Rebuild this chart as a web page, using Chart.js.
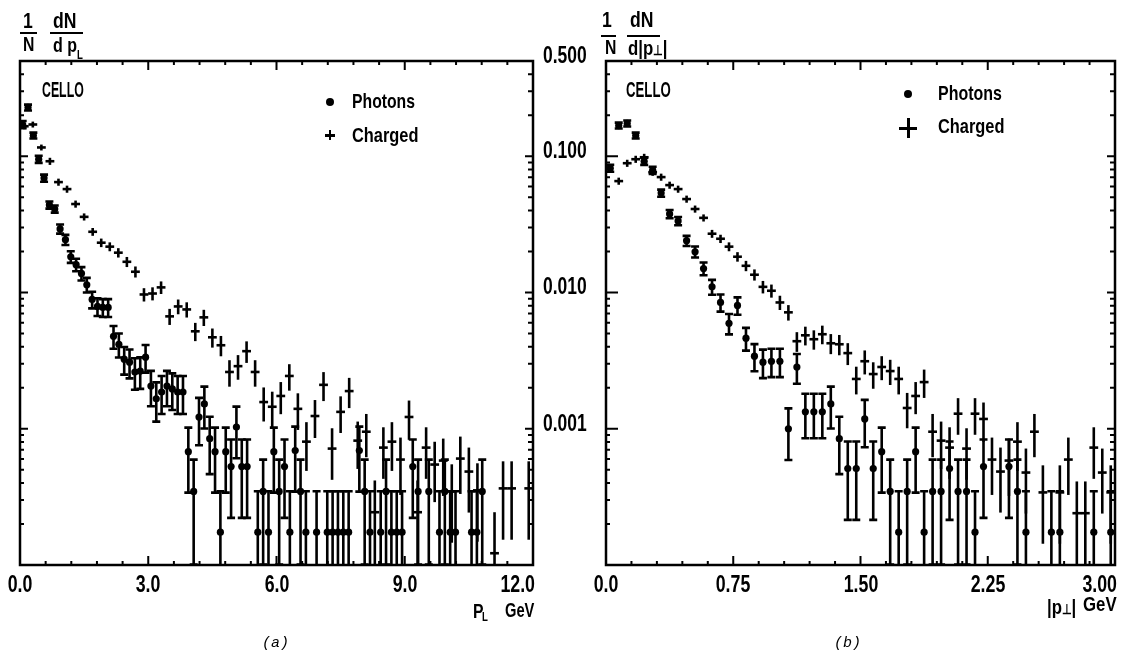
<!DOCTYPE html>
<html>
<head>
<meta charset="utf-8">
<script src="https://cdn.jsdelivr.net/npm/chart.js@4.4.0/dist/chart.umd.min.js"></script>
<style>
  body { margin: 0; background: #fff; }
  #page { position: relative; width: 1122px; height: 656px; overflow: hidden; background: #fff; }
  canvas { position: absolute; top: 0; }
  .t { position: absolute; font-family: "Liberation Sans", Arial, sans-serif; font-weight: bold; color: #000;
       line-height: 1; white-space: nowrap; transform-origin: 0 0; }
  .bar { position: absolute; height: 2px; background: #000; }
  .sym { position: absolute; background: #000; }
  .cap { position: absolute; font-family: "Liberation Mono", "DejaVu Sans Mono", monospace; font-style: italic;
         font-size: 15px; color: #000; line-height: 1; }
</style>
</head>
<body>
<div id="page">
  <canvas id="chartA" width="600" height="656" style="left:0"></canvas>
  <canvas id="chartB" width="532" height="656" style="left:590px"></canvas>

  <!-- left panel header -->
  <div class="t" style="left:23px;top:10px;font-size:22px;transform:scaleX(.8)">1</div>
  <div class="bar" style="left:20px;top:32px;width:17px"></div>
  <div class="t" style="left:23px;top:33px;font-size:21px;transform:scaleX(.75)">N</div>
  <div class="t" style="left:53px;top:10px;font-size:22px;transform:scaleX(.8)">dN</div>
  <div class="bar" style="left:50px;top:32px;width:33px"></div>
  <div class="t" style="left:53px;top:35px;font-size:20px;transform:scaleX(.8)">d p</div>
  <div class="t" style="left:77px;top:49px;font-size:12px;transform:scaleX(.8)">L</div>

  <!-- right panel header -->
  <div class="t" style="left:602px;top:9px;font-size:22px;transform:scaleX(.8)">1</div>
  <div class="bar" style="left:601px;top:35px;width:15px"></div>
  <div class="t" style="left:605px;top:36px;font-size:21px;transform:scaleX(.75)">N</div>
  <div class="t" style="left:630px;top:9px;font-size:22px;transform:scaleX(.8)">dN</div>
  <div class="bar" style="left:627px;top:35px;width:33px"></div>
  <div class="t" style="left:628px;top:37px;font-size:21px;transform:scaleX(.8)">d|p<span style="font-size:14px">⊥</span>|</div>

  <div class="t" style="left:42px;top:79px;font-size:22px;transform:scaleX(.56)">CELLO</div>
  <div class="t" style="left:626px;top:79px;font-size:22px;transform:scaleX(.6)">CELLO</div>

  <!-- legends -->
  <div class="sym" style="left:326px;top:98px;width:8px;height:8px;border-radius:50%"></div>
  <div class="t" style="left:352px;top:90px;font-size:21px;transform:scaleX(.75)">Photons</div>
  <div class="sym" style="left:325px;top:134px;width:10px;height:2.5px"></div>
  <div class="sym" style="left:328.8px;top:130px;width:2.5px;height:10px"></div>
  <div class="t" style="left:352px;top:124px;font-size:21px;transform:scaleX(.78)">Charged</div>

  <div class="sym" style="left:904px;top:90px;width:8px;height:8px;border-radius:50%"></div>
  <div class="t" style="left:938px;top:82px;font-size:21px;transform:scaleX(.76)">Photons</div>
  <div class="sym" style="left:899px;top:126.5px;width:18px;height:3px"></div>
  <div class="sym" style="left:906.5px;top:118px;width:3px;height:20px"></div>
  <div class="t" style="left:938px;top:115px;font-size:21px;transform:scaleX(.78)">Charged</div>

  <!-- axis titles -->
  <div class="t" style="left:473px;top:600px;font-size:21px;transform:scaleX(.75)">P</div>
  <div class="t" style="left:482px;top:611px;font-size:12px;transform:scaleX(.8)">L</div>
  <div class="t" style="left:505px;top:599px;font-size:21px;transform:scaleX(.7)">GeV</div>
  <div class="t" style="left:1047px;top:596px;font-size:21px;transform:scaleX(.8)">|p<span style="font-size:14px">⊥</span>|</div>
  <div class="t" style="left:1083px;top:593px;font-size:21px;transform:scaleX(.8)">GeV</div>

  <div class="cap" style="left:262px;top:636px">(a)</div>
  <div class="cap" style="left:834px;top:636px">(b)</div>
</div>

<script>
// ---------- panel (a): longitudinal momentum, GeV ----------
const photA_x = [0.0625, 0.1875, 0.3125, 0.4375, 0.5625, 0.6875, 0.8125, 0.9375, 1.0625, 1.1875,
  1.3125, 1.4375, 1.5625, 1.6875, 1.8125, 1.9375, 2.0625, 2.1875, 2.3125, 2.4375,
  2.5625, 2.6875, 2.8125, 2.9375, 3.0625, 3.1875, 3.3125, 3.4375, 3.5625, 3.6875,
  3.8125, 3.9375, 4.0625, 4.1875, 4.3125, 4.4375, 4.5625, 4.6875, 4.8125, 4.9375,
  5.0625, 5.1875, 5.3125, 5.5625, 5.6875, 5.8125, 5.9375, 6.0625, 6.1875, 6.3125,
  6.4375, 6.5625, 6.6875, 6.9375, 7.1875, 7.3125, 7.4375, 7.5625, 7.6875, 7.9375,
  8.0625, 8.1875, 8.4375, 8.5625, 8.6875, 8.8125, 8.9375, 9.1875, 9.3125, 9.5625,
  9.8125, 9.9375, 10.0625, 10.1875, 10.5625, 10.6875, 10.8125];
const photA_y = [0.171, 0.228, 0.142, 0.0951, 0.0691, 0.0439, 0.0410, 0.0293, 0.0244, 0.0183,
  0.0160, 0.0138, 0.0114, 0.00889, 0.00790, 0.00777, 0.00777, 0.00477, 0.00417, 0.00324,
  0.00308, 0.00261, 0.00265, 0.00335, 0.00206, 0.00166, 0.00186, 0.00206, 0.00196, 0.00186,
  0.00186, 0.000679, 0.000347, 0.00122, 0.00152, 0.000845, 0.000679, 0.000174, 0.000679, 0.000528,
  0.00103, 0.000528, 0.000528, 0.000174, 0.000347, 0.000174, 0.000679, 0.000347, 0.000528, 0.000174,
  0.000691, 0.000347, 0.000174, 0.000174, 0.000174, 0.000174, 0.000174, 0.000174, 0.000174, 0.000691,
  0.000347, 0.000174, 0.000174, 0.000347, 0.000174, 0.000174, 0.000174, 0.000528, 0.000347, 0.000347,
  0.000174, 0.000347, 0.000174, 0.000174, 0.000174, 0.000174, 0.000347];
const photA_err = [0.06, 0.05, 0.05, 0.06, 0.06, 0.06, 0.06, 0.077, 0.085, 0.098,
  0.104, 0.112, 0.123, 0.14, 0.149, 0.15, 0.15, 0.19, 0.2, 0.23,
  0.24, 0.26, 0.26, 0.23, 0.29, 0.32, 0.31, 0.29, 0.3, 0.31,
  0.31, 0.5, 0.71, 0.38, 0.34, 0.45, 0.5, 1, 0.5, 0.58,
  0.41, 0.58, 0.58, 1, 0.71, 1, 0.5, 0.71, 0.58, 1,
  0.5, 0.71, 1, 1, 1, 1, 1, 1, 1, 0.5,
  0.71, 1, 1, 0.71, 1, 1, 1, 0.58, 0.71, 0.71,
  1, 0.71, 1, 1, 1, 1, 0.71];

const chgA_x = [0.1, 0.3, 0.5, 0.7, 0.9, 1.1, 1.3, 1.5, 1.7, 1.9,
  2.1, 2.3, 2.5, 2.7, 2.9, 3.1, 3.3, 3.5, 3.7, 3.9,
  4.1, 4.3, 4.5, 4.7, 4.9, 5.1, 5.3, 5.5, 5.7, 5.9,
  6.1, 6.3, 6.5, 6.7, 6.9, 7.1, 7.3, 7.5, 7.7, 7.9,
  8.1, 8.3, 8.5, 8.7, 8.9, 9.1, 9.3, 9.5, 9.7, 9.9,
  10.1, 10.3, 10.5, 10.7, 11.1, 11.3, 11.5, 11.9];
const chgA_y = [0.166, 0.171, 0.116, 0.0919, 0.0646, 0.0574, 0.0446, 0.0359, 0.0279, 0.0232,
  0.0217, 0.0196, 0.0168, 0.0142, 0.00967, 0.00983, 0.0109, 0.00668, 0.00790, 0.00751,
  0.00519, 0.00657, 0.00469, 0.00410, 0.00261, 0.00288, 0.00371, 0.00261, 0.00157, 0.00145,
  0.00174, 0.00244, 0.00140, 0.000804, 0.00124, 0.00210, 0.000715, 0.00133, 0.00189, 0.000818,
  0.000951, 0.000244, 0.000727, 0.000804, 0.000594, 0.00122, 0.000244, 0.000727, 0.000546, 0.000584,
  0.000347, 0.000604, 0.000485, 0.000353, 0.000122, 0.000365, 0.000365, 0.000365];
const chgA_err = [0.05, 0.05, 0.05, 0.06, 0.06, 0.06, 0.06, 0.06, 0.066, 0.072,
  0.075, 0.079, 0.085, 0.093, 0.112, 0.11, 0.106, 0.135, 0.124, 0.128,
  0.153, 0.136, 0.16, 0.17, 0.22, 0.205, 0.18, 0.22, 0.28, 0.29,
  0.265, 0.22, 0.3, 0.39, 0.31, 0.24, 0.41, 0.3, 0.25, 0.38,
  0.35, 0.71, 0.41, 0.39, 0.45, 0.32, 0.71, 0.41, 0.47, 0.45,
  0.58, 0.45, 0.5, 0.58, 1, 0.58, 0.58, 0.58];

// ---------- panel (b): transverse momentum, GeV ----------
const photB_x = [0.025, 0.075, 0.125, 0.175, 0.225, 0.275, 0.325, 0.375, 0.425, 0.475,
  0.525, 0.575, 0.625, 0.675, 0.725, 0.775, 0.825, 0.875, 0.925, 0.975,
  1.025, 1.075, 1.125, 1.175, 1.225, 1.275, 1.325, 1.375, 1.425, 1.475,
  1.525, 1.575, 1.625, 1.675, 1.725, 1.775, 1.825, 1.875, 1.925, 1.975,
  2.025, 2.075, 2.125, 2.175, 2.225, 2.375, 2.425, 2.475, 2.625, 2.675,
  2.875, 2.975];
const photB_y = [0.0818, 0.168, 0.174, 0.142, 0.0919, 0.0790, 0.0537, 0.0377, 0.0335, 0.0240,
  0.0199, 0.0150, 0.0110, 0.00845, 0.00594, 0.00804, 0.00462, 0.00341, 0.00308, 0.00313,
  0.00313, 0.00100, 0.00284, 0.00133, 0.00133, 0.00133, 0.00152, 0.000845, 0.000510, 0.000510,
  0.00118, 0.000510, 0.000679, 0.000347, 0.000174, 0.000347, 0.000679, 0.000174, 0.000347, 0.000347,
  0.000510, 0.000347, 0.000347, 0.000174, 0.000528, 0.000528, 0.000347, 0.000174, 0.000174, 0.000174,
  0.000174, 0.000174];
const photB_err = [0.06, 0.05, 0.05, 0.05, 0.06, 0.06, 0.06, 0.07, 0.07, 0.085,
  0.093, 0.107, 0.125, 0.143, 0.17, 0.146, 0.19, 0.225, 0.236, 0.235,
  0.235, 0.41, 0.246, 0.36, 0.36, 0.36, 0.34, 0.45, 0.58, 0.58,
  0.38, 0.58, 0.5, 0.71, 1, 0.71, 0.5, 1, 0.71, 0.71,
  0.58, 0.71, 0.71, 1, 0.58, 0.58, 0.71, 1, 1, 1,
  1, 1];

const chgB_x = [0.075, 0.125, 0.175, 0.225, 0.275, 0.325, 0.375, 0.425, 0.475, 0.525,
  0.575, 0.625, 0.675, 0.725, 0.775, 0.825, 0.875, 0.925, 0.975, 1.025,
  1.075, 1.125, 1.175, 1.225, 1.275, 1.325, 1.375, 1.425, 1.475, 1.525,
  1.575, 1.625, 1.675, 1.725, 1.775, 1.825, 1.875, 1.925, 1.975, 2.025,
  2.075, 2.125, 2.175, 2.225, 2.275, 2.325, 2.375, 2.425, 2.475, 2.525,
  2.575, 2.675, 2.725, 2.775, 2.825, 2.875, 2.925, 2.975];
const chgB_y = [0.0657, 0.0889, 0.0951, 0.0983, 0.0764, 0.0703, 0.0614, 0.0574, 0.0485, 0.0410,
  0.0353, 0.0270, 0.0248, 0.0217, 0.0183, 0.0157, 0.0135, 0.0110, 0.0103, 0.00845,
  0.00715, 0.00439, 0.00485, 0.00454, 0.00494, 0.00424, 0.00417, 0.00359, 0.00232, 0.00313,
  0.00252, 0.00284, 0.00265, 0.00232, 0.00142, 0.00174, 0.00220, 0.000951, 0.000818, 0.000727,
  0.00129, 0.000715, 0.00129, 0.00118, 0.000594, 0.000485, 0.000584, 0.000804, 0.000477, 0.000951,
  0.000341, 0.000341, 0.000594, 0.000240, 0.000240, 0.000727, 0.000477, 0.000341];
const chgB_err = [0.06, 0.06, 0.06, 0.06, 0.06, 0.06, 0.06, 0.06, 0.06, 0.06,
  0.06, 0.067, 0.07, 0.075, 0.08, 0.087, 0.094, 0.105, 0.11, 0.12,
  0.13, 0.165, 0.157, 0.162, 0.156, 0.168, 0.17, 0.183, 0.23, 0.2,
  0.22, 0.2, 0.21, 0.23, 0.29, 0.265, 0.235, 0.35, 0.38, 0.41,
  0.3, 0.41, 0.3, 0.32, 0.45, 0.5, 0.45, 0.39, 0.5, 0.35,
  0.58, 0.58, 0.45, 0.71, 0.71, 0.41, 0.5, 0.58];

// ---------- axes ----------
const xTicksA = [0, 0.6, 1.2, 1.8, 2.4, 3, 3.6, 4.2, 4.8, 5.4, 6, 6.6, 7.2, 7.8, 8.4, 9, 9.6, 10.2, 10.8, 11.4, 12];
const xLabelValsA = [0, 3, 6, 9, 12];
const xLabelsA = ['0.0', '3.0', '6.0', '9.0', '12.0'];

const xTicksB = [0, 0.15, 0.3, 0.45, 0.6, 0.75, 0.9, 1.05, 1.2, 1.35, 1.5, 1.65, 1.8, 1.95, 2.1, 2.25, 2.4, 2.55, 2.7, 2.85, 3];
const xLabelValsB = [0, 0.75, 1.5, 2.25, 3];
const xLabelsB = ['0.0', '0.75', '1.50', '2.25', '3.00'];

const yTicks = [0.0001, 0.0002, 0.0003, 0.0004, 0.0005, 0.0006, 0.0007, 0.0008, 0.0009,
  0.001, 0.002, 0.003, 0.004, 0.005, 0.006, 0.007, 0.008, 0.009,
  0.01, 0.02, 0.03, 0.04, 0.05, 0.06, 0.07, 0.08, 0.09,
  0.1, 0.2, 0.3, 0.4, 0.5];
const yMajor = [0.001, 0.01, 0.1];
const yLabelVals = [0.5, 0.1, 0.01, 0.001];
const yLabels = ['0.500', '0.100', '0.010', '0.001'];

const near = (a, b) => Math.abs(a - b) < 1e-9 * Math.max(1, Math.abs(b));
const findIdx = (list, v) => list.findIndex(t => near(t, v));
const toPoints = (xs, ys, es) => xs.map((x, i) => ({ x: x, y: ys[i], e: es[i] }));

// error bars, frame and inward ticks
const framePlugin = {
    id: 'frame',
    beforeDatasetsDraw(chart) {
        const { ctx, chartArea: a, scales: { x, y } } = chart;
        ctx.save();
        ctx.beginPath();
        ctx.rect(a.left, a.top, a.right - a.left, a.bottom - a.top);
        ctx.clip();
        ctx.strokeStyle = '#000';
        ctx.lineWidth = 2.6;
        chart.data.datasets.forEach(ds => {
            ds.data.forEach(p => {
                const px = x.getPixelForValue(p.x);
                const loV = p.y * (1 - p.e);
                const hi = y.getPixelForValue(p.y * (1 + p.e));
                const lo = loV > y.min ? y.getPixelForValue(loV) : a.bottom + 3;
                ctx.beginPath();
                ctx.moveTo(px, hi);
                ctx.lineTo(px, lo);
                if (ds.caps) {
                    ctx.moveTo(px - 4, hi);
                    ctx.lineTo(px + 4, hi);
                    if (loV > y.min) {
                        ctx.moveTo(px - 4, lo);
                        ctx.lineTo(px + 4, lo);
                    }
                }
                ctx.stroke();
            });
        });
        ctx.restore();
    },
    afterDraw(chart, args, opts) {
        const { ctx, chartArea: a, scales: { x, y } } = chart;
        ctx.save();
        ctx.strokeStyle = '#000';
        ctx.lineWidth = 2.5;
        ctx.strokeRect(a.left, a.top, a.right - a.left, a.bottom - a.top);
        ctx.lineWidth = 2;
        ctx.beginPath();
        opts.xTicks.forEach(v => {
            const px = x.getPixelForValue(v);
            const len = findIdx(opts.xMajor, v) >= 0 ? 9 : 4;
            ctx.moveTo(px, a.bottom);
            ctx.lineTo(px, a.bottom - len);
            ctx.moveTo(px, a.top);
            ctx.lineTo(px, a.top + len);
        });
        yTicks.forEach(v => {
            const py = y.getPixelForValue(v);
            const major = findIdx(yMajor, v) >= 0;
            ctx.moveTo(a.left, py);
            ctx.lineTo(a.left + (major ? opts.leftMajor : 4), py);
            ctx.moveTo(a.right, py);
            ctx.lineTo(a.right - (major ? 8 : 5), py);
        });
        ctx.stroke();
        ctx.restore();
    }
};

const noPad = s => { s.paddingLeft = 0; s.paddingRight = 0; s.paddingTop = 0; s.paddingBottom = 0; };

const makeChart = (id, xMax, xTicks, xLabelVals, photons, charged, padding, leftMajor) => {
    return new Chart(document.getElementById(id), {
        type: 'scatter',
        data: {
            datasets: [{
                label: 'Photons',
                data: photons,
                caps: true,
                pointStyle: 'circle',
                pointRadius: 3.6,
                backgroundColor: '#000',
                borderColor: '#000',
                borderWidth: 0
            }, {
                label: 'Charged',
                data: charged,
                caps: false,
                pointStyle: 'line',
                pointRadius: 4.4,
                borderColor: '#000',
                borderWidth: 2.6
            }]
        },
        options: {
            responsive: false,
            animation: false,
            devicePixelRatio: 1,
            layout: { padding: padding },
            plugins: {
                legend: { display: false },
                tooltip: { enabled: false },
                frame: { xTicks: xTicks, xMajor: xLabelVals, leftMajor: leftMajor }
            },
            scales: {
                x: {
                    type: 'linear',
                    min: 0,
                    max: xMax,
                    grid: { display: false, drawTicks: false },
                    border: { display: false },
                    ticks: { display: false },
                    afterBuildTicks: s => { s.ticks = xTicks.map(v => ({ value: v })); },
                    afterFit: s => { s.height = 40; noPad(s); }
                },
                y: {
                    type: 'logarithmic',
                    position: 'left',
                    min: 0.0001,
                    max: 0.5,
                    grid: { display: false, drawTicks: false },
                    border: { display: false },
                    ticks: { display: false },
                    afterBuildTicks: s => { s.ticks = yTicks.map(v => ({ value: v })); },
                    afterFit: s => { s.width = 0; noPad(s); }
                }
            }
        },
        plugins: [framePlugin]
    });
};

const chartA = makeChart('chartA', 12, xTicksA, xLabelValsA,
    toPoints(photA_x, photA_y, photA_err), toPoints(chgA_x, chgA_y, chgA_err),
    { left: 20, top: 61, right: 67, bottom: 51 }, 8);

const chartB = makeChart('chartB', 3, xTicksB, xLabelValsB,
    toPoints(photB_x, photB_y, photB_err), toPoints(chgB_x, chgB_y, chgB_err),
    { left: 16, top: 61, right: 4, bottom: 51 }, 12);

// tick labels as text, placed from the chart scales
const page = document.getElementById('page');
const addLabel = (text, x, y, anchor, size, sx) => {
    const d = document.createElement('div');
    d.className = 't';
    d.textContent = text;
    d.style.left = x + 'px';
    d.style.top = y + 'px';
    d.style.fontSize = size + 'px';
    const tx = anchor === 'center' ? '-50%' : anchor === 'right' ? '-100%' : '0';
    d.style.transformOrigin = anchor === 'center' ? '50% 50%' : anchor === 'right' ? '100% 50%' : '0 50%';
    d.style.transform = 'translate(' + tx + ', -50%) scaleX(' + sx + ')';
    page.appendChild(d);
};

const placeXLabels = (chart, offsetX, vals, labels) => {
    const x = chart.scales.x;
    const a = chart.chartArea;
    vals.forEach((v, i) => {
        const last = i === vals.length - 1;
        const px = last ? offsetX + a.right + 2 : offsetX + x.getPixelForValue(v);
        addLabel(labels[i], px, a.bottom + 19, last ? 'right' : 'center', 24, 0.74);
    });
};
placeXLabels(chartA, 0, xLabelValsA, xLabelsA);
placeXLabels(chartB, 590, xLabelValsB, xLabelsB);

yLabelVals.forEach((v, i) => {
    const py = chartA.scales.y.getPixelForValue(v);
    addLabel(yLabels[i], chartA.chartArea.right + 10, py - 6, 'left', 23, 0.76);
});
</script>
</body>
</html>
